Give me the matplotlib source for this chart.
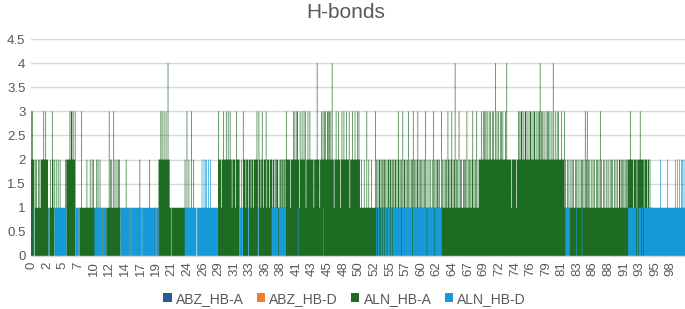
import numpy as np
import matplotlib
matplotlib.use("Agg")
import matplotlib.pyplot as plt

# one frame every 0.1 ns (0 - 99.9 ns), 20 blocks of 5 ns, digits = number of H-bonds
aln_hb_a = [
    "3232202121 1212122223 2232221012 1132120020 0200200000",
    "0020222223 2332322300 0000111311 1111121111 2112121100",
    "2021020001 0000011113 1212113121 1212121000 0000020000",
    "0010000000 0000002001 0000000000 0200000000 0000022232",
    "3223223224 2211011111 1111111111 1111120030 0200030020",
    "0000000000 0000000000 0000000000 0000003222 2122322232",
    "2322322122 2212322220 0200322212 2202221222 1222232032",
    "2123212223 1222122221 2212122211 2212212212 3222221222",
    "2323223322 1322322323 1223223222 2212222422 2122323232",
    "3223323232 4221223222 3221232232 2232223122 2322232223",
    "2321121112 1113112111 2111113121 2122121212 2121212212",
    "2121212212 1321212131 2212121312 1212312121 2312121212",
    "1213121121 2112131212 1221211312 1212121321 2123121241",
    "2121312121 1221213121 2121231212 1312122232 2323232322",
    "3232232322 4232322323 2322232422 2222122222 2212232323",
    "3232233232 2323322323 3223232342 3232322323 2323223242",
    "2322323222 2322231211 2121121212 1121212112 1212121312",
    "3121211212 1211212121 3121121211 2121121212 1121212112",
    "2121212121 2122223222 2122221222 2322222122 2212212111",
    "0000000000 0000000000 0000000000 0000000000 0000000000",
]
aln_hb_d = [
    "0000100000 0000000000 0000000100 0000001111 1111111111",
    "1111000000 0000000011 1110000000 0000000000 0000000111",
    "1111111110 1111100000 0000000000 0000000111 1111111111",
    "1101111111 1111111110 1111111111 1111111111 0010010000",
    "0000000000 0000100000 0000000000 0000011111 1111111111",
    "1110111111 1211212121 1211211111 1111110000 0000000000",
    "0000000000 0000000001 1111000000 0010000000 0000000100",
    "0000000000 0000000011 1111111101 1111111111 0000000000",
    "0000000010 0000000000 0000000000 0000000000 0000000100",
    "0000000000 0000000000 0000000000 0000000000 0000000000",
    "0000000000 0000000000 0000000010 1101011011 0111011110",
    "1101111111 1111110111 1111111111 1110111111 1111111111",
    "1111101111 1111111011 1111111100 0000000000 0000000000",
    "0000000000 0000000000 0000000000 0000000000 0000000000",
    "0000000000 0000000000 0000000000 0000000000 0000000000",
    "0000000000 0000000000 0000000000 0000000000 0000000000",
    "0000000000 0000000111 1111000000 0000100000 0010000000",
    "0000000000 0000000000 0000000000 0000000000 0000000000",
    "0000000000 0001111111 1111101101 1110110111 1111111111",
    "1111111111 1121111111 1112111111 1111121121 1211212121",
]
# ABZ series are zero except for these frames
abz_hb_a = {190: 1, 191: 1, 193: 1, 194: 1}
abz_hb_d = {73: 1}

series_names = ["ABZ_HB-A", "ABZ_HB-D", "ALN_HB-A", "ALN_HB-D"]
colors = ["#245d8f", "#ed7d31", "#1e6b24", "#169bd8"]
tick_labels = [0, 2, 5, 7, 10, 12, 14, 17, 19, 21, 24, 26, 29, 31, 33, 36, 38, 41,
               43, 45, 48, 50, 52, 55, 57, 60, 62, 64, 67, 69, 72, 74, 76, 79, 81,
               83, 86, 88, 91, 93, 95, 98]
frame_step = 0.1
label_every = 2.385  # ns between shown category labels


def decode(blocks):
    return np.array([int(c) for c in "".join(blocks).replace(" ", "")])


hb_a = decode(aln_hb_a)
hb_d = decode(aln_hb_d)
n = len(hb_a)
abz_a = np.zeros(n)
abz_d = np.zeros(n)
for k, v in abz_hb_a.items():
    abz_a[k] = v
for k, v in abz_hb_d.items():
    abz_d[k] = v

edges = np.arange(n + 1) * frame_step - frame_step / 2

plt.rcParams['font.family'] = ['Liberation Sans', 'DejaVu Sans']
grey = '#595959'

fig = plt.figure(figsize=(6.85, 3.09), dpi=100)
ax = fig.add_axes([31 / 685, 53 / 309, 654 / 685, 217 / 309])

for vals, name, col in zip([abz_a, abz_d, hb_a, hb_d], series_names, colors):
    ax.stairs(vals, edges, fill=True, color=col, linewidth=0, label=name)

ax.set_xlim(edges[0], edges[-1])
ax.set_ylim(0, 4.5)
yt = np.arange(0, 4.51, 0.5)
ax.set_yticks(yt, [f"{v:g}" for v in yt])
ax.set_xticks(np.arange(len(tick_labels)) * label_every, [str(v) for v in tick_labels],
              rotation=90)
ax.tick_params(axis='y', length=0, pad=4, labelsize=9.5, labelcolor=grey)
ax.tick_params(axis='x', length=0, pad=4, labelsize=9.5, labelcolor=grey)

ax.yaxis.grid(True, color='#d9d9d9', linewidth=1.0)
ax.set_axisbelow(True)
for s in ['top', 'right', 'left']:
    ax.spines[s].set_visible(False)
ax.spines['bottom'].set_color('#d9d9d9')
ax.spines['bottom'].set_linewidth(1.0)

fig.text(0.505, 1 - 13 / 309, "H-bonds", ha='center', va='center', fontsize=15, color=grey)

fig.legend(loc='center', bbox_to_anchor=(0.503, 0.033), ncol=4, frameon=False,
           handlelength=0.6, handleheight=0.6, handletextpad=0.3, columnspacing=0.95,
           fontsize=10, labelcolor=grey)

fig.savefig('out.png', dpi=100)
